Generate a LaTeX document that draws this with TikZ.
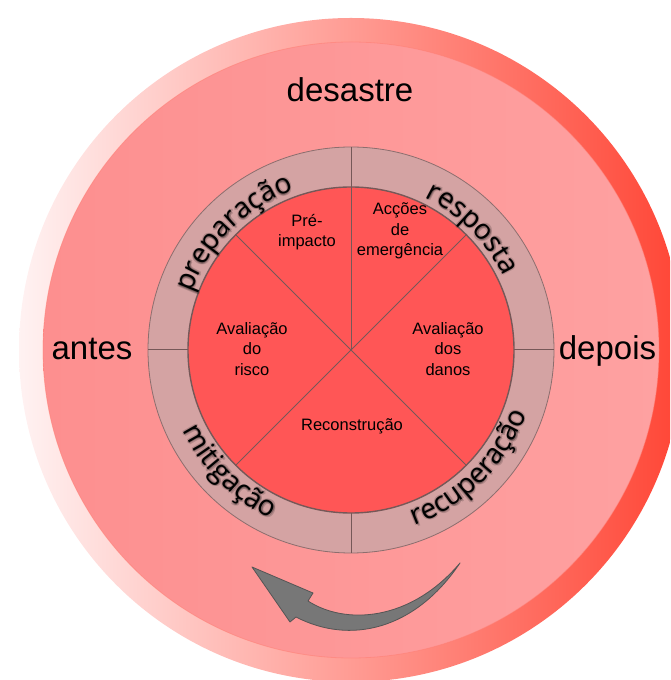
\documentclass[tikz,border=0pt]{standalone}
\usepackage{fontspec}
\setmainfont{Liberation Sans}
\newfontfamily\ringfont{Open Sans}
\usetikzlibrary{decorations.text}

\definecolor{rimL}{HTML}{FFF2F2}
\definecolor{rimM}{HTML}{FFA3A3}
\definecolor{rimR}{HTML}{FF4535}
\definecolor{faceL}{HTML}{FD8F8F}
\definecolor{faceR}{HTML}{FEA1A1}
\definecolor{ringfill}{HTML}{D4A3A3}
\definecolor{ringedge}{HTML}{8C6E6E}
\definecolor{core}{HTML}{FF5656}
\definecolor{divider}{HTML}{765858}
\definecolor{arrowfill}{HTML}{777777}
\definecolor{arrowedge}{HTML}{555555}

\tikzset{
  phase/.style={font=\fontsize{16.5}{20.5}\selectfont, align=center, text=black, inner sep=0pt},
  period/.style={font=\fontsize{33}{33}\selectfont, anchor=base, text=black, inner sep=0pt},
  divline/.style={draw=divider, line width=1pt},
}

% curved label inside the ring, with a soft drop shadow:
% #1 start angle, #2 end angle, #3 baseline radius, #4 text
\newcommand\ringlabel[4]{%
  \foreach \sx/\sy in {1.6/-1.6, 0.6/-0.6, -0.8/-1.4, 1.4/0.8, -0.6/0.6}{%
    \begin{scope}[shift={(\sx,\sy)}, opacity=0.16]
      \path[decorate, decoration={text along path, text align=center,
        text={|\ringfont\fontsize{28}{28}\selectfont\color{black}|#4}}]
        (#1:#3) arc[start angle=#1, end angle=#2, radius=#3];
    \end{scope}}%
  \path[decorate, decoration={text along path, text align=center,
    text={|\ringfont\fontsize{28}{28}\selectfont\color{black}|#4}}]
    (#1:#3) arc[start angle=#1, end angle=#2, radius=#3];%
}

\begin{document}
\begin{tikzpicture}[x=1pt,y=1pt]
\useasboundingbox (0,0) rectangle (670,680);
\clip (0,0) rectangle (670,680);
\coordinate (C) at (351,330);

\begin{scope}[shift={(C)}]
  % outer disc with its rim and face
  \shade[left color=rimL, middle color=rimM, right color=rimR] (0,0) circle (332);
  \shade[left color=faceL, right color=faceR] (0,0) circle (308);
  \draw[rimR!70!white, opacity=0.5, line width=0.8pt] (0,0) circle (308);

  % phase ring and central disc
  \filldraw[fill=ringfill, draw=ringedge, line width=0.8pt] (0,0) circle (203);
  \filldraw[fill=core, draw=divider, line width=1.4pt] (0,0) circle (163);

  % dividers
  \draw[divline] (0,0) -- (90:203);
  \draw[divline] (0:163) -- (0:203);
  \draw[divline] (180:163) -- (180:203);
  \draw[divline] (270:163) -- (270:203);
  \foreach \a in {45,135,225,315}{\draw[divline] (0,0) -- (\a:163);}

  % ring labels
  \ringlabel{180}{90}{169.5}{preparação}
  \ringlabel{90}{0}{169.5}{resposta}
  \ringlabel{270}{360}{186.5}{recuperação}
  \ringlabel{180}{270}{186.5}{mitigação}
\end{scope}

% period labels
\node[period] (desastre) at (350,578) {desastre};
\node[period] (antes) at (92,320) {antes};
\node[period] (depois) at (607.5,320) {depois};

% phase labels
\node[phase] (preimpacto) at (307,448) {Pré-\\impacto};
\node[phase] (emergencia) at (400,449) {Acções\\de\\emergência};
\node[phase] (risco) at (252,331) {Avaliação\\do\\risco};
\node[phase] (danos) at (448,331) {Avaliação\\dos\\danos};
\node[phase] (reconstrucao) at (352,254) {Reconstrução};

% cycle arrow
\filldraw[fill=arrowfill, draw=arrowedge, line width=0.8pt, line join=round]
  (252,113) -- (313,87) -- (308,79)
  .. controls (345,55) and (410,58) .. (460,117)
  .. controls (415,50) and (350,35) .. (296,63)
  -- (290,58) -- cycle;
\end{tikzpicture}
\end{document}
